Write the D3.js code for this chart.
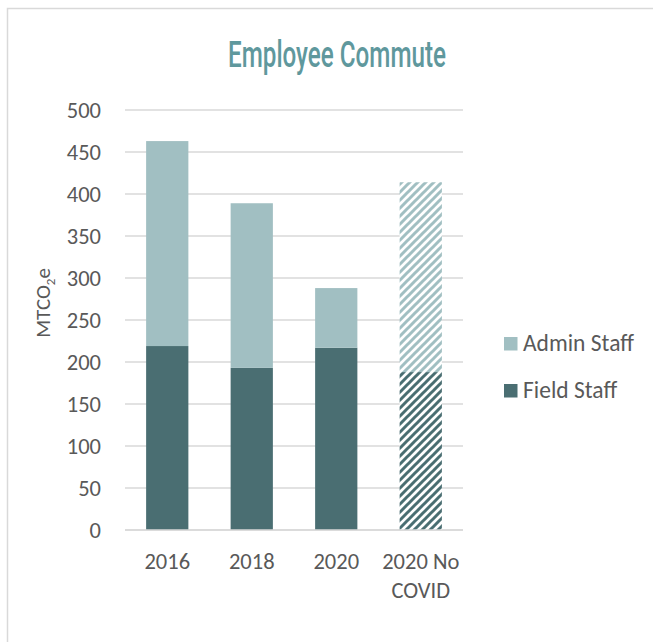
<!DOCTYPE html>
<html><head><meta charset="utf-8">
<script src="https://cdn.jsdelivr.net/npm/d3@7"></script>
<style>
body{margin:0;background:#fff;}
svg{display:block;}
</style></head>
<body>
<svg id="chart" width="653" height="642"></svg>
<script>
const categories = ["2016", "2018", "2020", "2020 No COVID"];
const fieldStaff = [219, 193, 217, 188];
const adminStaff = [244, 196, 71, 226];
const hatched = [false, false, false, true];
const yTicks = [0, 50, 100, 150, 200, 250, 300, 350, 400, 450, 500];
const seriesNames = ["Admin Staff", "Field Staff"];

const fieldColor = "#4a6e72";
const adminColor = "#a1bfc2";
const textColor = "#595959";
const font = "Carlito, Calibri, 'Open Sans', sans-serif";
const fs = 22.5;

const svg = d3.select("#chart");
const W = 653, H = 642;

// outer border
svg.append("path").attr("d", `M7.5,${H} V8.5 H${W}`)
  .attr("fill","none").attr("stroke","#d9d9d9").attr("stroke-width",1.5);

// patterns
const defs = svg.append("defs");
function hatch(id, color){
  const p = defs.append("pattern").attr("id", id).attr("patternUnits","userSpaceOnUse")
    .attr("width",8).attr("height",8);
  p.append("rect").attr("width",8).attr("height",8).attr("fill","#fff");
  p.append("path").attr("d","M-2,2 L2,-2 M0,8 L8,0 M6,10 L10,6")
    .attr("stroke",color).attr("stroke-width",3).attr("stroke-linecap","square");
}
hatch("hatchField", fieldColor);
hatch("hatchAdmin", adminColor);

const x = d3.scaleBand().domain(categories).range([125, 463]).paddingInner(0.5).paddingOuter(0.25);
const y = d3.scaleLinear().domain([0, 500]).range([530, 110]);

// gridlines
svg.append("g").selectAll("line").data(yTicks).join("line")
  .attr("x1",125).attr("x2",463)
  .attr("y1",d=>y(d)).attr("y2",d=>y(d))
  .attr("stroke","#d9d9d9").attr("stroke-width",1.3);

// y axis labels
const yAxis = d3.axisLeft(y).tickValues(yTicks).tickSize(0).tickPadding(0);
const gy = svg.append("g").attr("transform","translate(101,0)").call(yAxis);
gy.select(".domain").remove();
gy.selectAll("text").attr("font-family",font).attr("font-size",fs).attr("fill",textColor).attr("dy","0.33em");

// stacked bars
const data = categories.map((c,i)=>({cat:c, field:fieldStaff[i], admin:adminStaff[i], hatch:hatched[i]}));
const stack = d3.stack().keys(["field","admin"])(data);
const colorOf = {field: fieldColor, admin: adminColor};
const g = svg.append("g");
stack.forEach(layer=>{
  g.selectAll(null).data(layer).join("rect")
    .attr("x", d=>x(d.data.cat))
    .attr("width", x.bandwidth())
    .attr("y", d=>y(d[1]))
    .attr("height", d=>y(d[0])-y(d[1]))
    .attr("fill", d=> d.data.hatch ? (layer.key==="field" ? "url(#hatchField)" : "url(#hatchAdmin)") : colorOf[layer.key]);
});

// x axis baseline
svg.append("line").attr("x1",125).attr("x2",463).attr("y1",y(0)).attr("y2",y(0))
  .attr("stroke","#d9d9d9").attr("stroke-width",1.3);

// x labels
const xl = svg.append("g");
categories.forEach(c=>{
  const cx = x(c)+x.bandwidth()/2;
  const lines = c === "2020 No COVID" ? ["2020 No","COVID"] : [c];
  const t = xl.append("text").attr("text-anchor","middle").attr("font-family",font)
    .attr("font-size",fs).attr("fill",textColor);
  lines.forEach((ln,k)=>{
    t.append("tspan").attr("x",cx).attr("y",569 + k*29).text(ln);
  });
});

// y axis title
const yt = svg.append("text").attr("transform","translate(50,303) rotate(-90)")
  .attr("text-anchor","middle").attr("font-family",font).attr("font-size",21).attr("fill",textColor);
yt.append("tspan").text("MTCO");
yt.append("tspan").attr("font-size",13).attr("dy",5).text("2");
yt.append("tspan").attr("dy",-5).text("e");

// title
svg.append("text").attr("x",337).attr("y",67).attr("text-anchor","middle")
  .attr("font-family","Roboto, 'DejaVu Sans Condensed', sans-serif")
  .attr("font-weight",500)
  .attr("font-size",37).attr("fill","#5f989d")
  .attr("textLength",218).attr("lengthAdjust","spacingAndGlyphs")
  .text("Employee Commute");

// legend
const legend = svg.append("g");
const legendColors = [adminColor, fieldColor];
seriesNames.forEach((n,i)=>{
  const ly = 343.5 + i*47;
  legend.append("rect").attr("x",504).attr("y",ly-6.5).attr("width",13.5).attr("height",13.5).attr("fill",legendColors[i]);
  legend.append("text").attr("x",523).attr("y",ly).attr("dy","0.33em")
    .attr("font-family",font).attr("font-size",23.5).attr("fill",textColor).text(n);
});
</script>
</body></html>
